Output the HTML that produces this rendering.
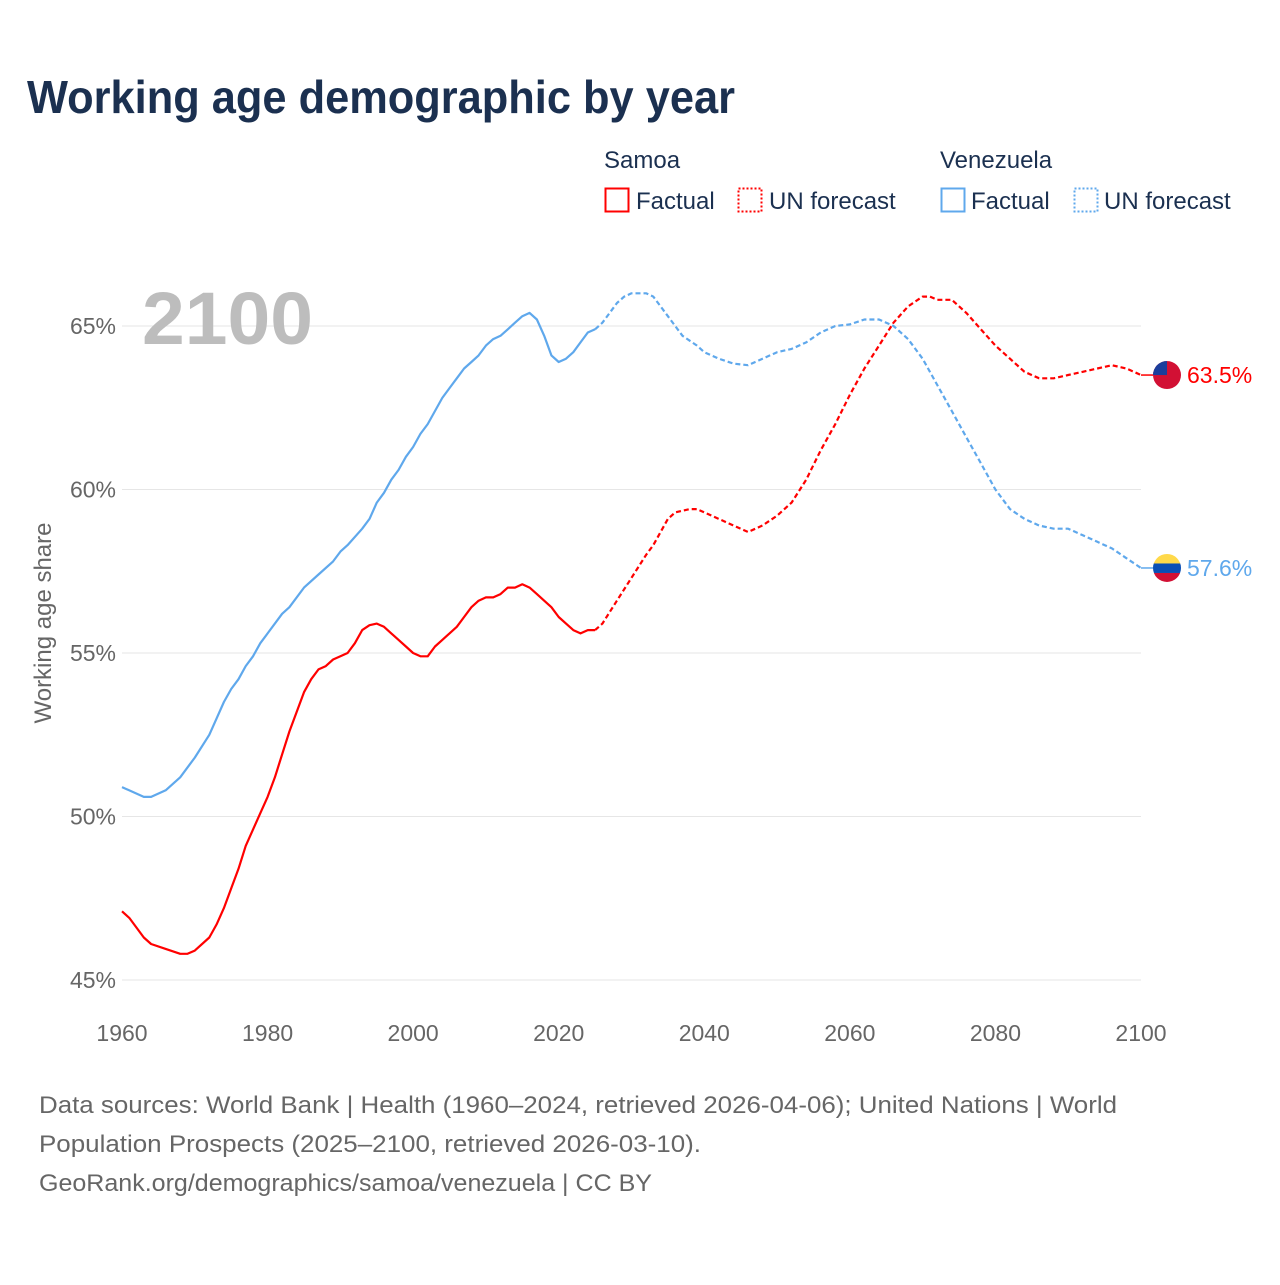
<!DOCTYPE html>
<html><head><meta charset="utf-8">
<style>
html,body{margin:0;padding:0;background:#fff;}
body{width:1280px;height:1280px;overflow:hidden;font-family:"Liberation Sans",sans-serif;}
svg text{font-family:"Liberation Sans",sans-serif;}
</style></head>
<body>
<svg id="chart" width="1280" height="1280" viewBox="0 0 1280 1280" xmlns="http://www.w3.org/2000/svg">
<text x="27" y="113" font-size="46" font-weight="bold" fill="#1b3050" textLength="708" lengthAdjust="spacingAndGlyphs">Working age demographic by year</text>
<g font-size="24" fill="#1b3050">
<text x="604" y="168">Samoa</text>
<text x="940" y="168">Venezuela</text>
<g><rect x="605.5" y="188.5" width="23" height="23" fill="none" stroke="#ff0000" stroke-width="2"/><text x="636" y="209">Factual</text></g>
<g><rect x="738.5" y="188.5" width="23" height="23" fill="none" stroke="#ff0000" stroke-width="2" stroke-dasharray="2,2"/><text x="769" y="209">UN forecast</text></g>
<g><rect x="941.5" y="188.5" width="23" height="23" fill="none" stroke="#5fa8ec" stroke-width="2"/><text x="971" y="209">Factual</text></g>
<g><rect x="1074.5" y="188.5" width="23" height="23" fill="none" stroke="#5fa8ec" stroke-width="2" stroke-dasharray="2,2"/><text x="1104" y="209">UN forecast</text></g>
</g>
<g id="grid"></g>
<text x="142" y="344" font-size="74" font-weight="bold" fill="#bdbdbd" textLength="171" lengthAdjust="spacingAndGlyphs">2100</text>
<text transform="translate(51,623) rotate(-90)" text-anchor="middle" font-size="24" fill="#666">Working age share</text>
<g id="series"></g>
<g id="endlabels"></g>
<g font-size="24" fill="#666">
<text x="39" y="1113" textLength="1078" lengthAdjust="spacingAndGlyphs">Data sources: World Bank | Health (1960–2024, retrieved 2026-04-06); United Nations | World</text>
<text x="39" y="1152" textLength="662" lengthAdjust="spacingAndGlyphs">Population Prospects (2025–2100, retrieved 2026-03-10).</text>
<text x="39" y="1191" textLength="613" lengthAdjust="spacingAndGlyphs">GeoRank.org/demographics/samoa/venezuela | CC BY</text>
</g>
</svg>
<script>
const yTicks=[45,50,55,60,65];
const xTicks=[1960,1980,2000,2020,2040,2060,2080,2100];
const venFactYears=[1960,1963,1964,1966,1968,1970,1972,1973,1974,1975,1976,1977,1978,1979,1980,1982,1983,1985,1987,1989,1990,1991,1993,1994,1995,1996,1997,1998,1999,2000,2001,2002,2003,2004,2005,2006,2007,2008,2009,2010,2011,2012,2013,2014,2015,2016,2017,2018,2019,2020,2021,2022,2023,2024,2025];
const venFactValues=[50.9,50.6,50.6,50.8,51.2,51.8,52.5,53.0,53.5,53.9,54.2,54.6,54.9,55.3,55.6,56.2,56.4,57.0,57.4,57.8,58.1,58.3,58.8,59.1,59.6,59.9,60.3,60.6,61.0,61.3,61.7,62.0,62.4,62.8,63.1,63.4,63.7,63.9,64.1,64.4,64.6,64.7,64.9,65.1,65.3,65.4,65.2,64.7,64.1,63.9,64.0,64.2,64.5,64.8,64.9];
const venFcYears=[2025,2026,2027,2028,2029,2030,2032,2033,2034,2035,2036,2037,2039,2040,2042,2044,2046,2048,2050,2052,2054,2056,2058,2060,2062,2064,2066,2068,2070,2072,2074,2076,2078,2080,2082,2084,2086,2088,2090,2092,2094,2096,2098,2100];
const venFcValues=[64.9,65.1,65.4,65.7,65.9,66.0,66.0,65.9,65.6,65.3,65.0,64.7,64.4,64.2,64.0,63.85,63.8,64.0,64.2,64.3,64.5,64.8,65.0,65.05,65.2,65.2,65.0,64.6,64.0,63.2,62.4,61.6,60.8,60.0,59.4,59.1,58.9,58.8,58.8,58.6,58.4,58.2,57.9,57.6];
const samFactYears=[1960,1961,1963,1964,1966,1968,1969,1970,1972,1973,1974,1975,1976,1977,1978,1979,1980,1981,1982,1983,1984,1985,1986,1987,1988,1989,1990,1991,1992,1993,1994,1995,1996,1997,1998,1999,2000,2001,2002,2003,2004,2005,2006,2007,2008,2009,2010,2011,2012,2013,2014,2015,2016,2017,2018,2019,2020,2021,2022,2023,2024,2025];
const samFactValues=[47.1,46.9,46.3,46.1,45.95,45.8,45.8,45.9,46.3,46.7,47.2,47.8,48.4,49.1,49.6,50.1,50.6,51.2,51.9,52.6,53.2,53.8,54.2,54.5,54.6,54.8,54.9,55.0,55.3,55.7,55.85,55.9,55.8,55.6,55.4,55.2,55.0,54.9,54.9,55.2,55.4,55.6,55.8,56.1,56.4,56.6,56.7,56.7,56.8,57.0,57.0,57.1,57.0,56.8,56.6,56.4,56.1,55.9,55.7,55.6,55.7,55.7];
const samFcYears=[2025,2026,2028,2030,2032,2033,2034,2035,2036,2038,2039,2040,2042,2044,2046,2048,2050,2052,2054,2056,2058,2060,2062,2064,2066,2068,2070,2071,2072,2074,2076,2078,2080,2082,2084,2086,2088,2090,2092,2094,2096,2098,2100];
const samFcValues=[55.7,55.9,56.6,57.3,58.0,58.3,58.7,59.1,59.3,59.4,59.4,59.3,59.1,58.9,58.7,58.9,59.2,59.6,60.3,61.2,62.0,62.9,63.7,64.4,65.1,65.6,65.9,65.9,65.8,65.8,65.4,64.9,64.4,64.0,63.6,63.4,63.4,63.5,63.6,63.7,63.8,63.7,63.5];
const endLabels=["63.5%","57.6%"];

const NS="http://www.w3.org/2000/svg";
const X0=122,X1=1141,Y45=980,Y65=326;
const xs=y=>X0+(y-1960)*(X1-X0)/140;
const ys=v=>Y45-(v-45)*(Y45-Y65)/20;
function mk(tag,attrs,parent){const e=document.createElementNS(NS,tag);for(const k in attrs)e.setAttribute(k,attrs[k]);parent.appendChild(e);return e;}
const grid=document.getElementById('grid');
yTicks.forEach(t=>{
  const l=mk('line',{x1:X0,x2:X1,y1:ys(t),y2:ys(t),stroke:'#e6e6e6','stroke-width':1},grid);
  
  
  const tx=mk('text',{x:116,y:ys(t)+8,'text-anchor':'end','font-size':23,fill:'#666'},grid);
  tx.textContent=t+'%';
  
  
});
xTicks.forEach(t=>{
  const tx=mk('text',{x:xs(t),y:1041,'text-anchor':'middle','font-size':23,fill:'#666'},grid);
  tx.textContent=t;
  
  
});
const ser=document.getElementById('series');
function line(years,vals,color,dash,name){
  const d=years.map((y,i)=>(i?'L':'M')+xs(y).toFixed(1)+','+ys(vals[i]).toFixed(1)).join('');
  const p=mk('path',{d:d,fill:'none',stroke:color,'stroke-width':2.2,'stroke-linejoin':'round'},ser);
  if(dash)p.setAttribute('stroke-dasharray','5,3');
  
  
}
const RED='#ff0000',BLUE='#5fa8ec';
line(venFactYears,venFactValues,BLUE,false,'venezuela-factual-line');
line(venFcYears,venFcValues,BLUE,true,'venezuela-forecast-line');
line(samFactYears,samFactValues,RED,false,'samoa-factual-line');
line(samFcYears,samFcValues,RED,true,'samoa-forecast-line');
const el=document.getElementById('endlabels');
function flag(v,label,color,kind){
  const y=ys(v),cx=1167;
  mk('line',{x1:X1,x2:cx-14,y1:y,y2:y,stroke:color,'stroke-width':1.5},el);
  const g=mk('g',{},el);
  
  
  const cp=mk('clipPath',{id:'cp'+kind},g);
  mk('circle',{cx:cx,cy:y,r:14},cp);
  const gg=mk('g',{'clip-path':'url(#cp'+kind+')'},g);
  if(kind==='samoa'){
    mk('rect',{x:cx-14,y:y-14,width:28,height:28,fill:'#d21034'},gg);
    mk('rect',{x:cx-14,y:y-14,width:14,height:14,fill:'#1a3e9c'},gg);
  }else{
    mk('rect',{x:cx-14,y:y-14,width:28,height:10,fill:'#ffd94a'},gg);
    mk('rect',{x:cx-14,y:y-4.5,width:28,height:9.5,fill:'#0a4fb5'},gg);
    mk('rect',{x:cx-14,y:y+5,width:28,height:10,fill:'#d21034'},gg);
  }
  const t=mk('text',{x:1187,y:y+8,'font-size':23,fill:color},el);
  t.textContent=label;
  
  
}
flag(samFcValues[samFcValues.length-1],endLabels[0],RED,'samoa');
flag(venFcValues[venFcValues.length-1],endLabels[1],BLUE,'venezuela');
</script>
</body></html>
